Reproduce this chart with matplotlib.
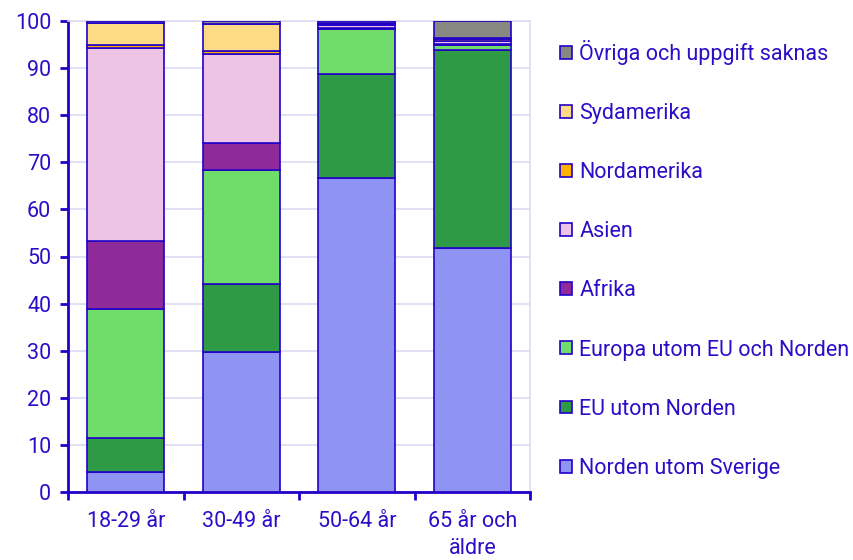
import numpy as np
import matplotlib
matplotlib.use("Agg")
import matplotlib.pyplot as plt
from matplotlib.ticker import FixedLocator, MultipleLocator

plt.rcParams['font.family'] = ['Roboto', 'DejaVu Sans']

categories = ['18-29 år', '30-49 år', '50-64 år', '65 år och\näldre']
series = ['Norden utom Sverige', 'EU utom Norden', 'Europa utom EU och Norden',
          'Afrika', 'Asien', 'Nordamerika', 'Sydamerika', 'Övriga och uppgift saknas']
norden = [4.2, 29.7, 66.7, 51.8]
eu = [7.3, 14.5, 22.0, 42.0]
europa = [27.4, 24.2, 9.6, 1.1]
afrika = [14.4, 5.7, 0.3, 0.2]
asien = [40.9, 18.8, 0.6, 0.6]
nordamerika = [0.6, 0.7, 0.2, 0.4]
sydamerika = [4.7, 5.8, 0.2, 0.2]
ovriga = [0.5, 0.6, 0.4, 3.7]
values = [norden, eu, europa, afrika, asien, nordamerika, sydamerika, ovriga]
colors = ['#8f94f2', '#2f9a46', '#70dd6a', '#8e2a9a', '#eec4e6', '#ffb200', '#fddb86', '#878882']

txt = '#2a0fc8'
edge = '#2200c8'
fs = 15.5

fig = plt.figure(figsize=(8.54, 5.6), dpi=100)
ax = fig.add_axes([68/854, 68/560, 462/854, 471/560])

x = np.arange(len(categories))
bottom = np.zeros(len(categories))
handles = []
for name, vals, c in zip(series, values, colors):
    b = ax.bar(x, vals, 0.67, bottom=bottom, color=c, edgecolor=edge, linewidth=1.2, label=name, zorder=3)
    handles.append(b)
    bottom += np.array(vals)

ax.set_xlim(-0.5, 3.5)
ax.set_ylim(0, 100)
ax.yaxis.set_major_locator(MultipleLocator(10))
ax.grid(axis='y', color='#dcdcf4', linewidth=1.2, zorder=0)
ax.set_xticks(x)
ax.set_xticklabels(categories, linespacing=1.35)
ax.xaxis.set_minor_locator(FixedLocator(np.arange(-0.5, 4, 1)))
ax.tick_params(axis='x', which='major', length=0, pad=14, labelsize=fs, labelcolor=txt)
ax.tick_params(axis='x', which='minor', length=6, width=2, color=edge)
ax.tick_params(axis='y', length=6, width=2, color=edge, labelsize=fs, labelcolor=txt, pad=6)
for s in ['left', 'bottom']:
    ax.spines[s].set_color(edge)
    ax.spines[s].set_linewidth(2)
for s in ['top', 'right']:
    ax.spines[s].set_color('#dcdcf4')
    ax.spines[s].set_linewidth(1.2)

leg = fig.legend(handles[::-1], series[::-1], loc='upper left', bbox_to_anchor=(560/854, 1 - 40/560),
                 frameon=False, fontsize=fs, labelspacing=1.77, handlelength=0.55, handleheight=0.55,
                 handletextpad=0.35, borderpad=0, borderaxespad=0)
for t in leg.get_texts():
    t.set_color(txt)

fig.savefig('out.png', dpi=100)
